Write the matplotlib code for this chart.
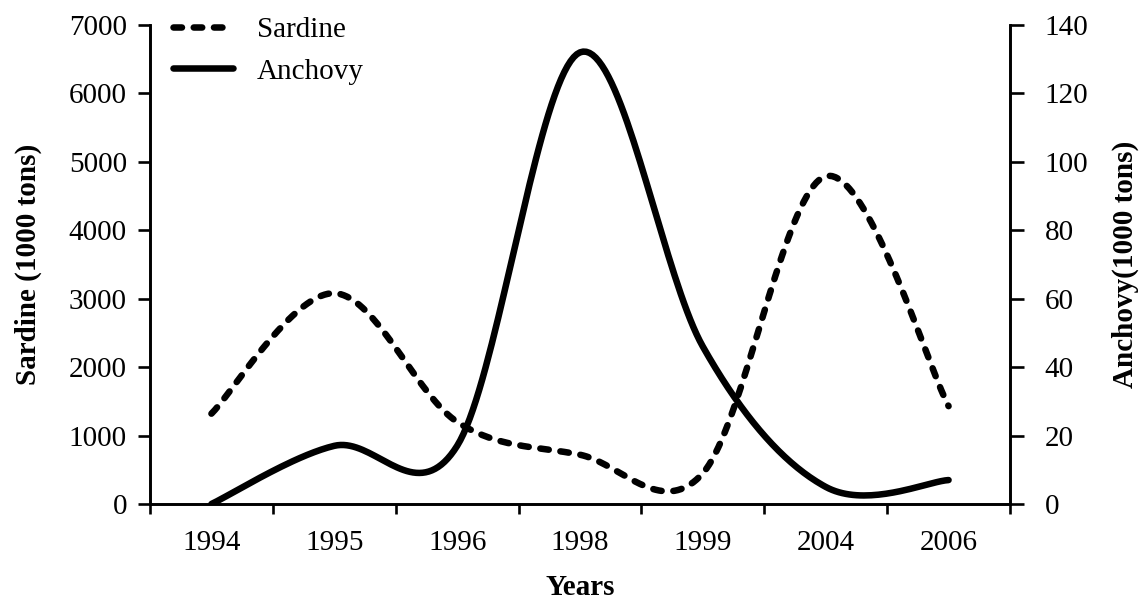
import numpy as np
import matplotlib
matplotlib.use("Agg")
import matplotlib.pyplot as plt

years = ["1994", "1995", "1996", "1998", "1999", "2004", "2006"]
sardine = [1320, 3080, 1200, 720, 450, 4790, 1430]
anchovy = [0, 17, 17, 132, 46, 5, 7]

plt.rcParams['font.family'] = ['Liberation Serif', 'DejaVu Serif']

fig = plt.figure(figsize=(11.39, 6.03), dpi=100)
ax = fig.add_axes([150/1139, 1-504/603, 860/1139, 479/603])
ax2 = ax.twinx()

n = len(years)
xs = np.arange(n)
for a in (ax, ax2):
    a.set_xlim(-0.5, n - 0.5)
ax.set_ylim(0, 7000)
ax2.set_ylim(0, 140)


def smooth(x, y, m=40):
    # Catmull-Rom (Excel-like smoothed line) through the data points
    x = np.asarray(x, float); y = np.asarray(y, float)
    px = np.concatenate([[x[0]], x, [x[-1]]])
    py = np.concatenate([[y[0]], y, [y[-1]]])
    outx, outy = [], []
    for i in range(1, len(px) - 2):
        p0x, p1x, p2x, p3x = px[i-1], px[i], px[i+1], px[i+2]
        p0y, p1y, p2y, p3y = py[i-1], py[i], py[i+1], py[i+2]
        c1x = p1x + (p2x - p0x) / 6; c1y = p1y + (p2y - p0y) / 6
        c2x = p2x - (p3x - p1x) / 6; c2y = p2y - (p3y - p1y) / 6
        t = np.linspace(0, 1, m)
        b0 = (1-t)**3; b1 = 3*(1-t)**2*t; b2 = 3*(1-t)*t**2; b3 = t**3
        outx.append(b0*p1x + b1*c1x + b2*c2x + b3*p2x)
        outy.append(b0*p1y + b1*c1y + b2*c2y + b3*p2y)
    return np.concatenate(outx), np.concatenate(outy)

sx, sy = smooth(xs, sardine)
axx, ayy = smooth(xs, anchovy)

LW = 4.7
l1, = ax.plot(sx, sy, color='black', lw=LW, dashes=(1.3, 1.8),
              dash_capstyle='round', label='Sardine')
l2, = ax2.plot(axx, ayy, color='black', lw=LW, solid_capstyle='round',
               label='Anchovy')

for a in (ax, ax2):
    a.spines['top'].set_visible(False)
    for s in a.spines.values():
        s.set_linewidth(1.9)

FS = 21
ax.set_xticks(np.arange(-0.5, n, 1.0))
ax.set_xticklabels([])
ax.set_xticks(xs, minor=True)
ax.set_xticklabels(years, minor=True)
ax.tick_params(axis='x', which='major', length=7, width=1.9, direction='out')
ax.tick_params(axis='x', which='minor', length=0, labelsize=FS, pad=19)

ax.set_yticks(np.arange(0, 7001, 1000))
ax.tick_params(axis='y', length=9, width=1.9, labelsize=FS, pad=7.6)
ax2.set_yticks(np.arange(0, 141, 20))
ax2.tick_params(axis='y', length=10, width=1.9, labelsize=FS, pad=15)

ax.set_ylabel('Sardine (1000 tons)', fontsize=FS, fontweight='bold', labelpad=19)
ax2.set_ylabel('Anchovy(1000 tons)', fontsize=FS, fontweight='bold', labelpad=16.5)
ax.set_xlabel('Years', fontsize=FS, fontweight='bold', labelpad=13)

leg = ax.legend(handles=[l1, l2], loc='upper left', frameon=False,
                fontsize=FS, handlelength=2.05, handletextpad=0.82,
                labelspacing=0.52, borderpad=0.0, borderaxespad=0.0,
                bbox_to_anchor=(0.0267, 1.0175))

fig.savefig('out.png', dpi=100)
